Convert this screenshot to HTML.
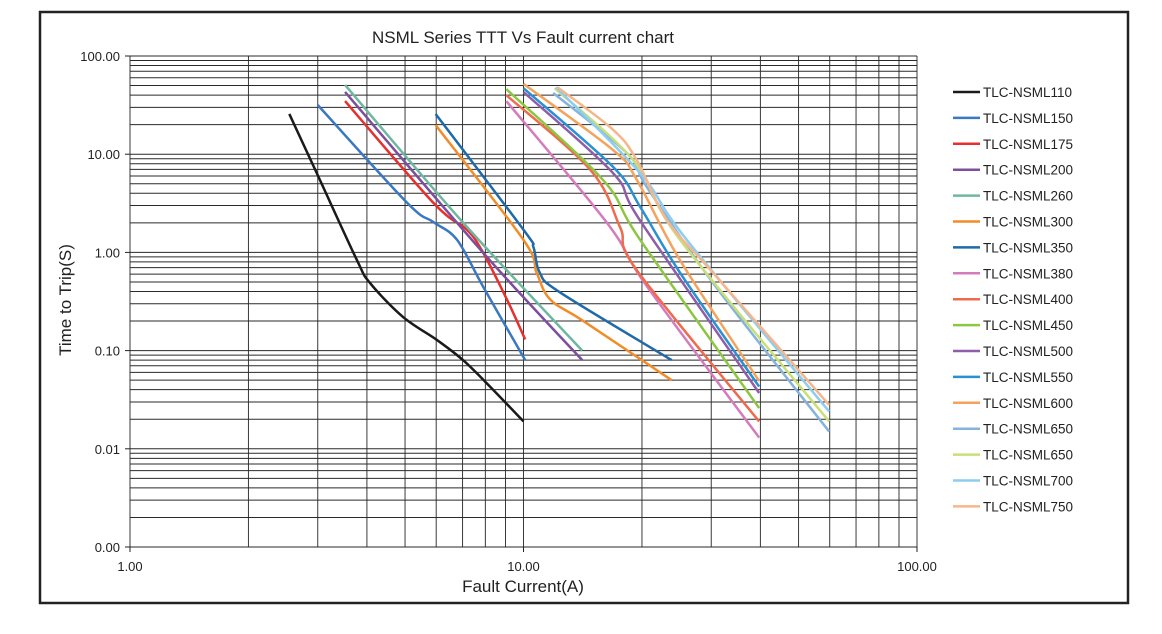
<!DOCTYPE html>
<html><head><meta charset="utf-8">
<style>
body{margin:0;background:#fff;width:1162px;height:629px;overflow:hidden;font-family:"Liberation Sans",Arial,sans-serif;}
svg text{font-family:"Liberation Sans",Arial,sans-serif;fill:#222;}
</style></head>
<body>
<svg id="chart" width="1162" height="629" xmlns="http://www.w3.org/2000/svg">
<rect x="40" y="12" width="1088" height="591" fill="#fff" stroke="#222" stroke-width="2.5"/>
<text x="523" y="43" font-size="17" text-anchor="middle">NSML Series TTT Vs Fault current chart</text>
<g id="grid"></g>
<g id="axes"></g>
<g id="series"></g>
<g id="legend"></g>
<text x="523" y="592" font-size="17" text-anchor="middle">Fault Current(A)</text>
<text transform="translate(71,300) rotate(-90)" font-size="17" text-anchor="middle">Time to Trip(S)</text>
</svg>
<script>
const xTickValues=[1,10,100];
const xTickLabels=["1.00","10.00","100.00"];
const yTickValues=[100,10,1,0.1,0.01,0.001];
const yTickLabels=["100.00","10.00","1.00","0.10","0.01","0.00"];
const seriesNames=["TLC-NSML110","TLC-NSML150","TLC-NSML175","TLC-NSML200","TLC-NSML260","TLC-NSML300","TLC-NSML350","TLC-NSML380","TLC-NSML400","TLC-NSML450","TLC-NSML500","TLC-NSML550","TLC-NSML600","TLC-NSML650","TLC-NSML650","TLC-NSML700","TLC-NSML750"];
const seriesColors=["#1a1a1a","#3a78c2","#e5302f","#7d4e9e","#6fb7a0","#f28c28","#1f6aa8","#d57bbd","#ee6c4d","#8dc641","#8f5ea9","#2a90d0","#f4a35d","#86b3dd","#c9df78","#8dcdee","#f6b68c"];
const s110I=[2.54,3.0,3.77,4.07,4.94,6.03,7.02,8.22,10];
const s110T=[25.7,6.1,0.84,0.49,0.22,0.128,0.08,0.043,0.019];
const s150I=[3.0,5.06,5.9,6.78,7.89,10.1];
const s150T=[31.7,3.2,2.04,1.34,0.45,0.08];
const s175I=[3.52,5.9,7.18,7.9,9.08,10.1];
const s175T=[34.8,3.2,1.7,0.99,0.33,0.13];
const s200I=[3.52,7.9,14.1];
const s200T=[43,0.99,0.08];
const s260I=[3.52,7.0,14.1];
const s260T=[50.7,2.04,0.1];
const s300I=[5.98,10.0,10.8,11.7,14.2,23.8];
const s300T=[19.8,1.34,0.62,0.33,0.2,0.05];
const s350I=[5.98,10,10.6,11.0,12.4,23.8];
const s350T=[25.7,1.7,1.13,0.62,0.39,0.08];
const s380I=[9.04,16.3,20.6,39.7];
const s380T=[34.8,2.0,0.45,0.013];
const s400I=[9.04,14.8,17.6,19.4,39.7];
const s400T=[40,6.9,1.8,0.66,0.019];
const s450I=[9.04,15.9,19.8,39.7];
const s450T=[46,5.5,1.34,0.026];
const s500I=[10,16.9,19.8,39.7];
const s500T=[43,6.4,2.1,0.037];
const s550I=[10,16.9,19.8,25,39.7];
const s550T=[47,7.4,2.9,0.62,0.043];
const s600I=[10,16.9,19.4,25,39.7];
const s600T=[52,11,5.5,0.83,0.049];
const s650aI=[11.9,18.3,20.6,30.3,59.8];
const s650aT=[42,10.3,4.6,0.49,0.015];
const s650bI=[12,19,25,59.8];
const s650bT=[47,8.7,1.34,0.019];
const s700I=[12.1,19.8,26,59.8];
const s700T=[48,6.4,1.34,0.024];
const s750I=[12.2,16.9,19.4,23.2,30.3,59.8];
const s750T=[48,17.7,8.7,2.1,0.62,0.028];
const seriesI=[s110I,s150I,s175I,s200I,s260I,s300I,s350I,s380I,s400I,s450I,s500I,s550I,s600I,s650aI,s650bI,s700I,s750I];
const seriesT=[s110T,s150T,s175T,s200T,s260T,s300T,s350T,s380T,s400T,s450T,s500T,s550T,s600T,s650aT,s650bT,s700T,s750T];

const X0=130,X1=917,Y0=56,Y1=547;
function xs(v){return X0+(X1-X0)*(Math.log10(v)-0)/2;}
function ys(v){return Y0+(Y1-Y0)*(2-Math.log10(v))/5;}
const NS="http://www.w3.org/2000/svg";
function mk(tag,attrs,parent){const e=document.createElementNS(NS,tag);for(const k in attrs)e.setAttribute(k,attrs[k]);parent.appendChild(e);return e;}
const grid=document.getElementById('grid');
for(let d=0;d<2;d++){for(let m=1;m<=10;m++){const v=Math.pow(10,d)*m;if(d===1&&m===1)continue;
 const l=mk('line',{x1:xs(v),x2:xs(v),y1:Y0,y2:Y1,stroke:'#3a3a3a','stroke-width':1},grid);
 
 }}
for(let d=-3;d<2;d++){for(let m=1;m<=10;m++){const v=Math.pow(10,d)*m;if(m===10&&d!==1)continue;
 const l=mk('line',{x1:X0,x2:X1,y1:ys(v),y2:ys(v),stroke:'#2a2a2a','stroke-width':1},grid);
 
 }}
const axes=document.getElementById('axes');
xTickValues.forEach((v,i)=>{
 const tk=mk('line',{x1:xs(v),x2:xs(v),y1:Y1,y2:Y1+5,stroke:'#222'},axes);
 
 
 const t=mk('text',{x:xs(v),y:Y1+24,'font-size':13,'text-anchor':'middle'},axes);t.textContent=xTickLabels[i];
 
 });
yTickValues.forEach((v,i)=>{
 const tk=mk('line',{x1:X0-5,x2:X0,y1:ys(v),y2:ys(v),stroke:'#222'},axes);
 
 
 const t=mk('text',{x:X0-10,y:ys(v)+5,'font-size':13,'text-anchor':'end'},axes);t.textContent=yTickLabels[i];
 
 });
function pathD(pts){if(pts.length<3)return 'M'+pts.map(p=>p.join(',')).join('L');
 let d='M'+pts[0][0]+','+pts[0][1];
 for(let i=0;i<pts.length-1;i++){const p0=pts[i-1]||pts[i],p1=pts[i],p2=pts[i+1],p3=pts[i+2]||p2;
  const c1=[p1[0]+(p2[0]-p0[0])/6,p1[1]+(p2[1]-p0[1])/6],c2=[p2[0]-(p3[0]-p1[0])/6,p2[1]-(p3[1]-p1[1])/6];
  d+='C'+c1.join(',')+' '+c2.join(',')+' '+p2.join(',');}
 return d;}
const sg=document.getElementById('series');
seriesI.forEach((arr,k)=>{const pts=arr.map((v,i)=>[xs(v),ys(seriesT[k][i])]);
 const p=mk('path',{d:pathD(pts),fill:'none',stroke:seriesColors[k],'stroke-width':2.5,'stroke-linejoin':'round'},sg);
 
 });
const lg=document.getElementById('legend');
seriesNames.forEach((n,k)=>{const y=92+k*25.9;
 const g=mk('g',{},lg);
 
 
 mk('line',{x1:953,x2:980,y1:y,y2:y,stroke:seriesColors[k],'stroke-width':2.5},g);
 const t=mk('text',{x:983,y:y+5,'font-size':13.5},g);t.textContent=n;});
</script>
</body></html>
